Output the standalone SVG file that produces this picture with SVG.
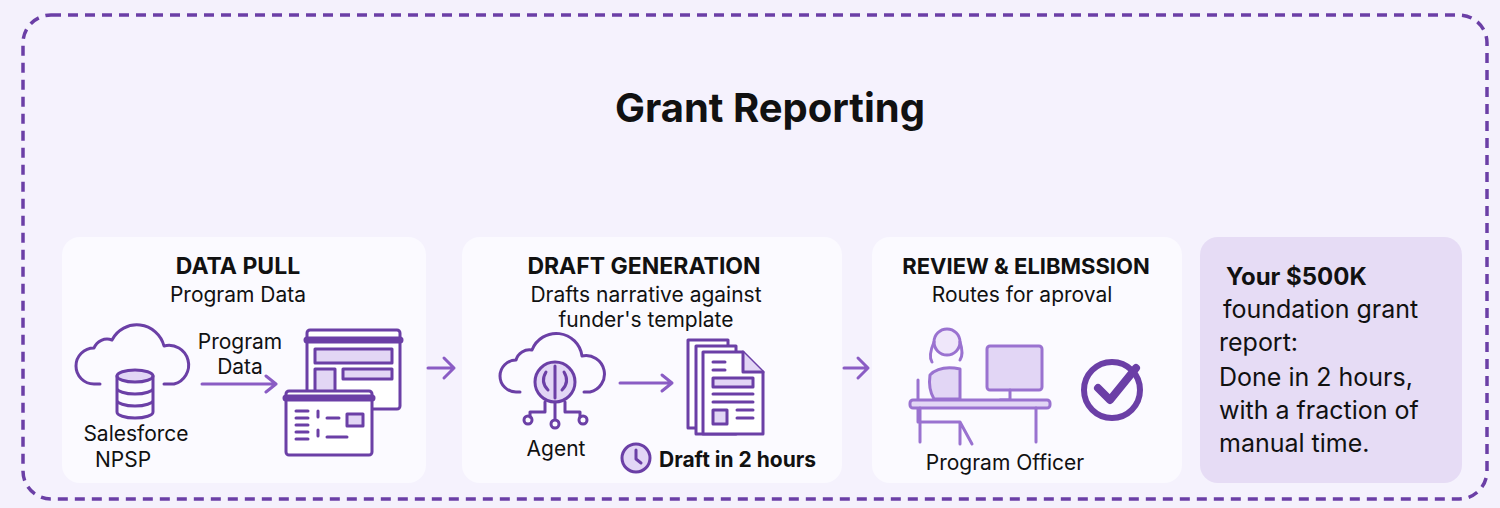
<svg xmlns="http://www.w3.org/2000/svg" width="1500" height="508" viewBox="0 0 1500 508">
<style>
text{font-family:Inter,"Liberation Sans",sans-serif;fill:#111}
.h{font-weight:700;font-size:23px}
.s{font-size:21px}
.ic{fill:none;stroke:#6b3fa6;stroke-width:3;stroke-linecap:round;stroke-linejoin:round}
.fl{fill:#e2d6f5;stroke:#6b3fa6;stroke-width:3}
.card{fill:#fbfaff}
.arr{fill:none;stroke:#8a5cc4;stroke-width:3;stroke-linecap:round;stroke-linejoin:round}
</style>
<rect width="1500" height="508" fill="#f4f1fc"/>
<rect x="23" y="15" width="1464" height="484" rx="28" fill="#f5f2fd" stroke="#6b3fa6" stroke-width="3.5" stroke-dasharray="10 7"/>
<text x="770" y="122" text-anchor="middle" style="font-weight:700;font-size:40px">Grant Reporting</text>

<g id="data-pull">
<rect class="card" x="62" y="237" width="364" height="246" rx="18"/>
<text class="h" x="238" y="274" text-anchor="middle">DATA PULL</text>
<text class="s" x="238" y="302" text-anchor="middle">Program Data</text>
<path class="ic" d="M100 384 h-6 a18 18 0 0 1 0-36 a14 14 0 0 1 18-8 a28 28 0 0 1 52 6 a16 16 0 0 1 10 38 h-10"/>
<g class="ic"><ellipse cx="135" cy="376" rx="18" ry="6" fill="#e2d6f5"/><path d="M117 376 v36 a18 6 0 0 0 36 0 v-36 M117 388 a18 6 0 0 0 36 0 M117 400 a18 6 0 0 0 36 0"/></g>
<text class="s" x="136" y="441" text-anchor="middle">Salesforce</text>
<text class="s" x="123" y="467" text-anchor="middle">NPSP</text>
<text class="s" x="240" y="349" text-anchor="middle">Program</text>
<text class="s" x="240" y="374" text-anchor="middle">Data</text>
<g class="ic"><rect x="307" y="330" width="93" height="79" rx="3" fill="#fff"/><path d="M307 340 h93" style="stroke-width:7"/><rect x="315" y="349" width="77" height="14" fill="#e2d6f5"/><rect x="315" y="369" width="20" height="26" fill="#e2d6f5"/><rect x="343" y="369" width="49" height="10" fill="#e2d6f5"/></g>
<g class="ic"><rect x="286" y="391" width="86" height="64" rx="3" fill="#fff"/><path d="M286 398 h86" style="stroke-width:7"/><path d="M296 411 h12 M296 418 h12 M296 425 h12 M296 432 h12 M296 439 h12 M318 411 v6 M318 430 v6 M327 418 h12 M327 437 h20"/><rect x="347" y="414" width="16" height="12" fill="#e2d6f5"/></g>
</g>

<g id="draft-generation">
<rect class="card" x="462" y="237" width="380" height="246" rx="18"/>
<text class="h" x="644" y="274" text-anchor="middle">DRAFT GENERATION</text>
<text class="s" x="646" y="302" text-anchor="middle">Drafts narrative against</text>
<text class="s" x="646" y="327" text-anchor="middle">funder's template</text>
<path class="ic" d="M520 392 h-4 a16 16 0 0 1 0-32 a14 14 0 0 1 16-10 a26 26 0 0 1 50 6 a16 16 0 0 1 8 36 h-6"/>
<circle cx="555" cy="382" r="20" class="fl"/>
<path class="ic" d="M555 366 v32 M546 372 q-6 10 2 18 M564 372 q6 10 -2 18"/>
<path class="ic" d="M545 402 v10 h-15 v5 M555 402 v17 M565 402 v10 h15 v5"/>
<circle cx="528" cy="420" r="4" class="ic"/><circle cx="555" cy="424" r="4" class="ic"/><circle cx="583" cy="420" r="4" class="ic"/>
<text class="s" x="556" y="456" text-anchor="middle">Agent</text>
<g class="ic"><path d="M688 340 h40 v88 h-40z" fill="#fff"/><path d="M696 346 h40 v88 h-40z" fill="#fff"/><path d="M703 352 h40 l20 20 v62 h-60z" fill="#fff"/><path d="M743 352 v20 h20" fill="#e2d6f5"/><path d="M713 362 h12 M713 370 h12 M713 394 h40 M713 402 h40 M737 410 h16 M737 418 h16"/><rect x="713" y="378" width="40" height="9" fill="#e2d6f5"/><rect x="713" y="410" width="14" height="14" fill="#e2d6f5"/></g>
<circle cx="636" cy="458" r="14" class="fl"/><path class="ic" d="M636 450 v9 l5 4"/>
<text x="659" y="467" style="font-weight:700;font-size:21px">Draft in 2 hours</text>
</g>

<g id="review-submission">
<rect class="card" x="872" y="237" width="310" height="246" rx="18"/>
<text class="h" x="1026" y="274" text-anchor="middle" style="font-size:22px">REVIEW &amp; ELIBMSSION</text>
<text class="s" x="1022" y="302" text-anchor="middle">Routes for aproval</text>
<g class="ic" style="stroke:#9a72d0"><circle cx="947" cy="342" r="13" fill="#efe7fa"/><path d="M934 342 q-6 14 -2 20 M960 342 q4 12 0 18"/><path d="M930 375 q10-10 30 -6 v30 h-26 q-6-10 -4-24z" fill="#e2d6f5"/><path d="M918 402 v20 h42 l12 22 M960 422 v22 M918 380 v22"/><rect x="987" y="346" width="55" height="44" rx="3" fill="#e2d6f5"/><path d="M1010 390 v10 h-10"/><rect x="910" y="400" width="140" height="8" rx="3" fill="#e2d6f5"/><path d="M920 408 v34 M1036 408 v34"/></g>
<circle cx="1112" cy="390" r="28" class="ic" style="stroke-width:6"/><path class="ic" style="stroke-width:8" d="M1098 388 l12 12 l26 -32"/>
<text class="s" x="1005" y="470" text-anchor="middle">Program Officer</text>
</g>

<g id="summary">
<rect x="1200" y="237" width="262" height="246" rx="18" fill="#e6dcf5"/>
<text x="1226" y="285" style="font-weight:700;font-size:24px">Your $500K</text>
<text x="1223" y="318" style="font-size:25px">foundation grant</text>
<text x="1219" y="351" style="font-size:25px">report:</text>
<text x="1219" y="386" style="font-size:25px">Done in 2 hours,</text>
<text x="1219" y="419" style="font-size:25px">with a fraction of</text>
<text x="1219" y="452" style="font-size:25px">manual time.</text>
</g>

<g id="connectors">
<path class="arr" d="M202 384 h74 M266 376 l10 8 l-10 8"/>
<path class="arr" d="M428 368 h26 M444 358 l10 10 l-10 10"/>
<path class="arr" d="M620 383 h52 M662 375 l10 8 l-10 8"/>
<path class="arr" d="M844 368 h24 M858 358 l10 10 l-10 10"/>
</g>
</svg>
